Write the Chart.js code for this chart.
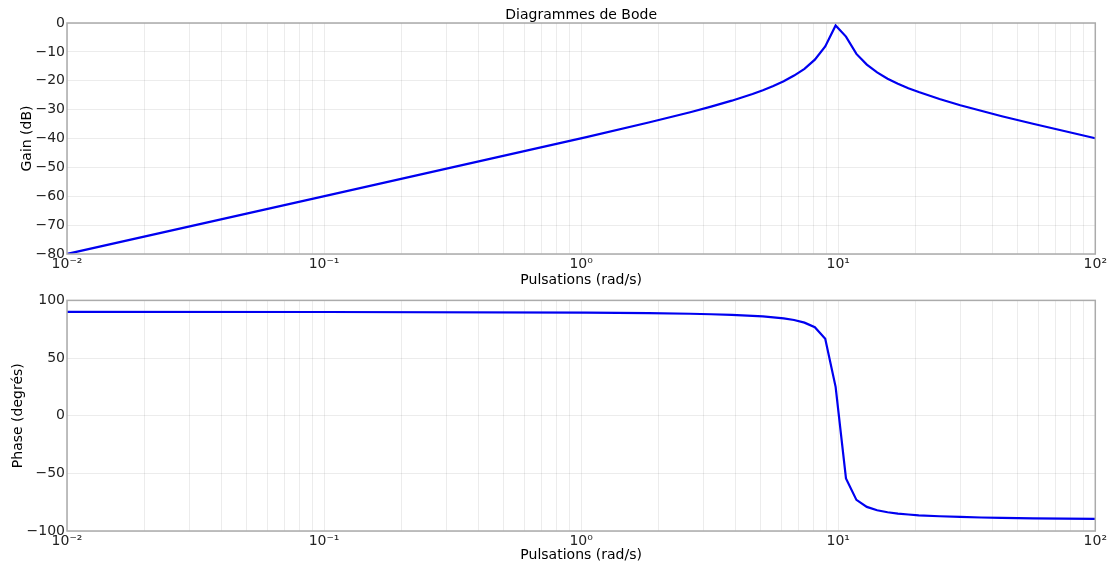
<!DOCTYPE html>
<html>
<head>
<meta charset="utf-8">
<script src="https://cdn.jsdelivr.net/npm/chart.js@4.4.1/dist/chart.umd.min.js"></script>
<style>
  html, body { margin: 0; padding: 0; background: #ffffff; }
  #wrap { position: relative; width: 1109px; height: 565px; overflow: hidden; }
  #wrap canvas { position: absolute; left: 0; }
</style>
</head>
<body>
<div id="wrap">
  <canvas id="gainChart" width="1109" height="290" style="top:0px"></canvas>
  <canvas id="phaseChart" width="1109" height="275" style="top:290px"></canvas>
</div>
<script>
// Frequency response samples (rad/s)
const pulsations = [0.01, 0.1024, 1.048, 1.830, 2.656, 3.201, 3.854, 4.642, 5.094, 5.591,
  6.136, 6.734, 7.391, 8.111, 8.902, 9.770, 10.72, 11.77, 12.92, 14.17,
  15.56, 17.07, 18.74, 20.57, 24.77, 29.84, 35.94, 43.29, 57.22, 75.65, 100];

// Gain (dB)
const gainDb = [-80.0, -59.8, -39.5, -34.45, -30.9, -28.96, -26.9, -24.6, -23.3, -21.8,
  -20.2, -18.2, -15.9, -12.7, -8.1, -0.85, -4.7, -10.7, -14.4, -17.1,
  -19.3, -21.0, -22.6, -23.9, -26.3, -28.5, -30.4, -32.3, -34.9, -37.4, -39.9];

// Phase (degrees)
const phaseDeg = [90.0, 89.94, 89.4, 88.9, 88.4, 88.0, 87.4, 86.6, 86.1, 85.3,
  84.4, 83.0, 80.7, 76.7, 66.8, 25.0, -54.4, -73.0, -79.1, -82.0,
  -83.75, -84.9, -85.7, -86.4, -87.2, -87.8, -88.3, -88.6, -89.0, -89.2, -89.4];

// Axis ticks and labels
const xDecades = [0.01, 0.1, 1, 10, 100];
const xTickLabels = ['10\u207B\u00B2', '10\u207B\u00B9', '10\u2070', '10\u00B9', '10\u00B2'];
const gainTicks = [0, -10, -20, -30, -40, -50, -60, -70, -80];
const phaseTicks = [100, 50, 0, -50, -100];

const chartTitle = 'Diagrammes de Bode';
const xAxisTitle = 'Pulsations (rad/s)';
const gainAxisTitle = 'Gain (dB)';
const phaseAxisTitle = 'Phase (degrés)';

const FONT = 'DejaVu Sans';
const GRID = 'rgba(0,0,0,0.075)';
const FRAME = '#ababab';
const LINE = '#0000f0';

// log grid: 1..9 in each decade
const xGridValues = [];
for (let d = 0; d < xDecades.length - 1; d++) {
  for (let k = 1; k <= 9; k++) xGridValues.push(k * xDecades[d]);
}
xGridValues.push(xDecades[xDecades.length - 1]);

const minusSign = v => (v < 0 ? '\u2212' + Math.abs(v) : String(v));

const framePlugin = {
  id: 'frame',
  afterDraw(chart) {
    const { ctx, chartArea: a } = chart;
    ctx.save();
    ctx.strokeStyle = FRAME;
    ctx.lineWidth = 1.5;
    ctx.strokeRect(a.left, a.top, a.right - a.left, a.bottom - a.top);
    ctx.restore();
  }
};

const headingPlugin = {
  id: 'heading',
  afterDraw(chart, args, opts) {
    if (!opts || !opts.text) return;
    const { ctx, chartArea: a } = chart;
    ctx.save();
    ctx.fillStyle = '#000';
    ctx.font = '14px "' + FONT + '"';
    ctx.textAlign = 'center';
    ctx.textBaseline = 'middle';
    ctx.fillText(opts.text, (a.left + a.right) / 2, opts.y);
    ctx.restore();
  }
};

function xScale(height) {
  return {
    type: 'logarithmic',
    min: xDecades[0],
    max: xDecades[xDecades.length - 1],
    afterBuildTicks: s => { s.ticks = xGridValues.map(v => ({ value: v })); },
    afterFit: s => { s.height = height; },
    grid: { color: GRID, lineWidth: 1, drawTicks: false },
    border: { display: false },
    ticks: {
      autoSkip: false, maxRotation: 0, minRotation: 0, padding: 2,
      color: '#222', font: { family: FONT, size: 14 },
      callback: v => {
        const i = xDecades.findIndex(d => Math.abs(d - v) < d * 1e-6);
        return i >= 0 ? xTickLabels[i] : '';
      }
    },
    title: {
      display: true, text: xAxisTitle, color: '#000',
      font: { family: FONT, size: 14 }, padding: { top: 0, bottom: 1 }
    }
  };
}

function yScale(ticks, title, titleOffset) {
  return {
    type: 'linear',
    min: Math.min(...ticks),
    max: Math.max(...ticks),
    afterBuildTicks: s => { s.ticks = ticks.map(v => ({ value: v })); },
    afterFit: s => { s.width = 67; },
    grid: { color: GRID, lineWidth: 1, drawTicks: false },
    border: { display: false },
    ticks: {
      padding: 2, color: '#222', font: { family: FONT, size: 14 },
      callback: v => minusSign(v)
    },
    title: {
      display: true, text: title, color: '#000',
      font: { family: FONT, size: 14 }, padding: { top: titleOffset, bottom: 0 }
    }
  };
}

function makeChart(id, values, ticks, yTitle, yTitleOffset, padTop, xHeight, heading) {
  return new Chart(document.getElementById(id), {
    type: 'line',
    data: {
      datasets: [{
        data: pulsations.map((w, i) => ({ x: w, y: values[i] })),
        borderColor: LINE,
        borderWidth: 2.2,
        pointRadius: 0,
        tension: 0,
        fill: false
      }]
    },
    options: {
      responsive: false,
      animation: false,
      devicePixelRatio: 1,
      layout: { padding: { top: padTop, right: 12, bottom: 0, left: 0 } },
      plugins: {
        legend: { display: false },
        tooltip: { enabled: false },
        heading: heading
      },
      scales: {
        x: xScale(xHeight),
        y: yScale(ticks, yTitle, yTitleOffset)
      }
    },
    plugins: [framePlugin, headingPlugin]
  });
}

makeChart('gainChart', gainDb, gainTicks, gainAxisTitle, 19, 23, 36, { text: chartTitle, y: 15 });
makeChart('phaseChart', phaseDeg, phaseTicks, phaseAxisTitle, 10, 10, 34, { text: '' });
</script>
</body>
</html>
